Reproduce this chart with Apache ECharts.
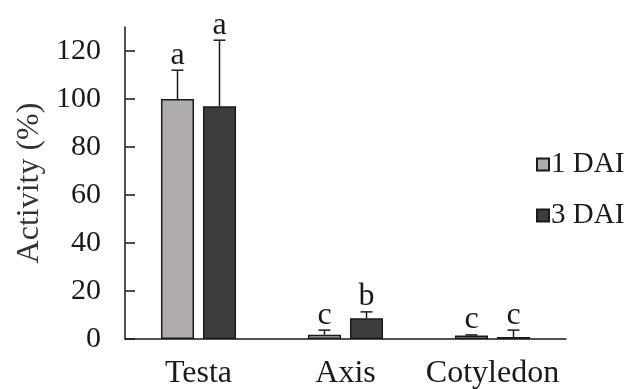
<!DOCTYPE html>
<html>
<head>
<meta charset="utf-8">
<script src="https://cdn.jsdelivr.net/npm/echarts@6/dist/echarts.min.js"></script>
<style>html,body{margin:0;padding:0;background:#fff}#c{width:635px;height:389px}</style>
</head>
<body>
<div id="c"></div>
<script>
const categories = ['Testa', 'Axis', 'Cotyledon'];
const dai1 = [100, 1.8, 1.5];
const dai1Top = [112, 3.7, 1.7];
const dai3 = [97, 8.6, 0.8];
const dai3Top = [124.5, 11.3, 3.7];
const letters1 = ['a', 'c', 'c'];
const letters3 = ['a', 'b', 'c'];
const yTicks = [0, 20, 40, 60, 80, 100, 120];

const FONT = '"Liberation Serif", "Times New Roman", serif';
const BAR_W = 0.225, BAR_GAP = 0.27;

function errSeries(name, vals, tops, letters, sign) {
  return {
    type: 'custom',
    name: name + ' err',
    z: 5,
    silent: true,
    encode: { x: 0, y: 2 },
    data: vals.map((v, i) => [i, v, tops[i], letters[i]]),
    renderItem: function (params, api) {
      const band = api.size([1, 0])[0];
      const off = sign * band * BAR_W * (1 + BAR_GAP) / 2;
      const p0 = api.coord([api.value(0), api.value(1)]);
      const p1 = api.coord([api.value(0), api.value(2)]);
      const x = p0[0] + off;
      const cap = 6;
      const st = { stroke: '#1a1a1a', lineWidth: 1.5 };
      return {
        type: 'group',
        children: [
          { type: 'line', shape: { x1: x, y1: p0[1], x2: x, y2: p1[1] }, style: st },
          { type: 'line', shape: { x1: x - cap, y1: p1[1], x2: x + cap, y2: p1[1] }, style: st },
          { type: 'text', style: { text: letters[params.dataIndex], x: x, y: p1[1] + 1, align: 'center', verticalAlign: 'bottom', font: '32px ' + FONT, fill: '#1a1a1a' } }
        ]
      };
    }
  };
}

const chart = echarts.init(document.getElementById('c'), null, { renderer: 'canvas' });
chart.setOption({
  animation: false,
  backgroundColor: '#fff',
  grid: { left: 125, right: 69, top: 27, bottom: 50, containLabel: false, outerBoundsMode: 'none' },
  legend: {
    orient: 'vertical',
    left: 531,
    top: 145,
    itemWidth: 12,
    itemHeight: 12,
    itemGap: 22,
    icon: 'rect',
    textStyle: { fontFamily: FONT, fontSize: 29, color: '#1a1a1a', padding: [0, 0, 0, -3] },
    data: ['1 DAI', '3 DAI']
  },
  xAxis: {
    type: 'category',
    data: categories,
    axisLine: { lineStyle: { color: '#1a1a1a', width: 1.5 } },
    axisTick: { show: false },
    axisLabel: { fontFamily: FONT, fontSize: 32, color: '#1a1a1a', margin: 19, interval: 0 }
  },
  yAxis: {
    type: 'value',
    min: 0,
    max: 130,
    interval: 10,
    name: 'Activity (%)',
    nameLocation: 'middle',
    nameGap: 74,
    nameTextStyle: { fontFamily: FONT, fontSize: 32, color: '#333' },
    axisLine: { show: true, lineStyle: { color: '#1a1a1a', width: 1.5 } },
    axisTick: { show: true, inside: true, length: 10, customValues: yTicks, lineStyle: { color: '#1a1a1a', width: 1.5 } },
    axisLabel: { fontFamily: FONT, fontSize: 30, color: '#1a1a1a', margin: 24, customValues: yTicks },
    splitLine: { show: false }
  },
  series: [
    {
      name: '1 DAI', type: 'bar', data: dai1,
      barWidth: (BAR_W * 100) + '%', barGap: (BAR_GAP * 100) + '%',
      itemStyle: { color: '#afacab', borderColor: '#1a1a1a', borderWidth: 1.5 }
    },
    {
      name: '3 DAI', type: 'bar', data: dai3,
      barWidth: (BAR_W * 100) + '%', barGap: (BAR_GAP * 100) + '%',
      itemStyle: { color: '#3d3d3d', borderColor: '#1a1a1a', borderWidth: 1.5 }
    },
    errSeries('1 DAI', dai1, dai1Top, letters1, -1),
    errSeries('3 DAI', dai3, dai3Top, letters3, 1)
  ]
});
</script>
</body>
</html>
